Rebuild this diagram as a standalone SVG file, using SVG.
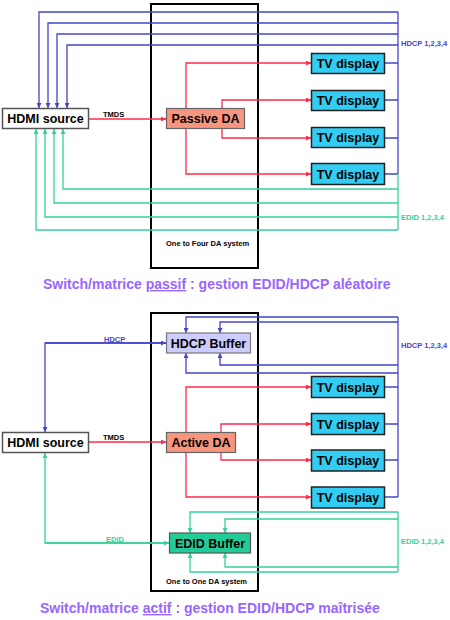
<svg xmlns="http://www.w3.org/2000/svg" width="450" height="620" viewBox="0 0 450 620">
<style>
text{font-family:"Liberation Sans",Arial,sans-serif;font-weight:bold}
.node{font-size:12.5px;fill:#000}
.small{font-size:7.5px}
.bl{fill:none;stroke:#4444cc;stroke-width:1.3}
.rd{fill:none;stroke:#ff2a4a;stroke-width:1.3}
.gr{fill:none;stroke:#33d19b;stroke-width:1.3}
.frame{fill:none;stroke:#000;stroke-width:2}
.title{font-size:14px;fill:#9966ff}
</style>
<defs>
<marker id="ab" viewBox="0 0 6 6" refX="6" refY="3" markerWidth="5" markerHeight="5" markerUnits="userSpaceOnUse" orient="auto"><path d="M0,0L6,3L0,6z" fill="#4444cc"/></marker>
<marker id="ar" viewBox="0 0 6 6" refX="6" refY="3" markerWidth="5" markerHeight="5" markerUnits="userSpaceOnUse" orient="auto"><path d="M0,0L6,3L0,6z" fill="#ff2a4a"/></marker>
<marker id="ag" viewBox="0 0 6 6" refX="6" refY="3" markerWidth="5" markerHeight="5" markerUnits="userSpaceOnUse" orient="auto"><path d="M0,0L6,3L0,6z" fill="#33d19b"/></marker>
</defs>
<rect width="450" height="620" fill="#fff"/>

<!-- frames -->
<rect class="frame" x="151" y="4" width="107" height="264"/>
<rect class="frame" x="151" y="313" width="107" height="278"/>

<g id="connectors">
<!-- top: HDCP -->
<path class="bl" d="M398,12H39V108" marker-end="url(#ab)"/>
<path class="bl" d="M398,23H48V108" marker-end="url(#ab)"/>
<path class="bl" d="M398,34H57V108" marker-end="url(#ab)"/>
<path class="bl" d="M398,45H67V108" marker-end="url(#ab)"/>
<path class="bl" d="M398,12V174"/>
<path class="bl" d="M385,63H398M385,100H398M385,138H398M385,174H398"/>
<!-- top: EDID -->
<path class="gr" d="M398,174V230"/>
<path class="gr" d="M398,189H63V129" marker-end="url(#ag)"/>
<path class="gr" d="M398,203H54V129" marker-end="url(#ag)"/>
<path class="gr" d="M398,217H45V129" marker-end="url(#ag)"/>
<path class="gr" d="M398,230H36V129" marker-end="url(#ag)"/>
<!-- top: TMDS -->
<path class="rd" d="M89,119H166" marker-end="url(#ar)"/>
<path class="rd" d="M186,108V63H311" marker-end="url(#ar)"/>
<path class="rd" d="M222,108V100H311" marker-end="url(#ar)"/>
<path class="rd" d="M222,129V138H311" marker-end="url(#ar)"/>
<path class="rd" d="M186,129V174H311" marker-end="url(#ar)"/>

<!-- bottom: HDCP -->
<path class="bl" d="M166,343H45V432" marker-end="url(#ab)"/>
<path class="bl" d="M45,343H166" marker-end="url(#ab)"/>
<path class="bl" d="M398,317H186V333" marker-end="url(#ab)"/>
<path class="bl" d="M398,322H220V333" marker-end="url(#ab)"/>
<path class="bl" d="M398,365H220V353" marker-end="url(#ab)"/>
<path class="bl" d="M398,373H186V353" marker-end="url(#ab)"/>
<path class="bl" d="M398,317V497"/>
<path class="bl" d="M385,387H398M385,424H398M385,460H398M385,497H398"/>
<!-- bottom: TMDS -->
<path class="rd" d="M89,442H166" marker-end="url(#ar)"/>
<path class="rd" d="M186,432V387H311" marker-end="url(#ar)"/>
<path class="rd" d="M221,432V424H311" marker-end="url(#ar)"/>
<path class="rd" d="M221,452V460H311" marker-end="url(#ar)"/>
<path class="rd" d="M186,452V497H311" marker-end="url(#ar)"/>
<!-- bottom: EDID -->
<path class="gr" d="M169,543H45V453" marker-end="url(#ag)"/>
<path class="gr" d="M45,543H169" marker-end="url(#ag)"/>
<path class="gr" d="M398,512H190V533" marker-end="url(#ag)"/>
<path class="gr" d="M398,519H225V533" marker-end="url(#ag)"/>
<path class="gr" d="M398,567H225V553" marker-end="url(#ag)"/>
<path class="gr" d="M398,572H190V553" marker-end="url(#ag)"/>
<path class="gr" d="M398,512V572"/>
</g>

<g id="labels">
<text class="small" x="103" y="117" fill="#000">TMDS</text>
<text class="small" x="103" y="440" fill="#000">TMDS</text>
<text class="small" x="104" y="342" fill="#4444cc">HDCP</text>
<text class="small" x="106" y="542" fill="#33d19b">EDID</text>
<text class="small" x="401" y="46" fill="#4444cc">HDCP 1,2,3,4</text>
<text class="small" x="401" y="220" fill="#33d19b">EDID 1,2,3,4</text>
<text class="small" x="401" y="348" fill="#4444cc">HDCP 1,2,3,4</text>
<text class="small" x="401" y="544" fill="#33d19b">EDID 1,2,3,4</text>
<text class="small" x="166" y="246" fill="#000">One to Four DA system</text>
<text class="small" x="166" y="584" fill="#000">One to One DA system</text>
</g>

<!-- top nodes -->
<g id="hdmi1"><rect x="2.5" y="108.5" width="86" height="20" fill="#fff" stroke="#555" stroke-width="1.5"/><text class="node" x="45.5" y="123" text-anchor="middle">HDMI source</text></g>
<g id="pda"><rect x="166.5" y="108.5" width="78" height="20" fill="#f7957f" stroke="#666" stroke-width="1.2"/><text class="node" x="205.5" y="123" text-anchor="middle">Passive DA</text></g>
<g id="tv1"><rect x="311.5" y="53.5" width="73" height="20" fill="#33ccf2" stroke="#222" stroke-width="1.5"/><text class="node" x="348" y="68" text-anchor="middle">TV display</text></g>
<g id="tv2"><rect x="311.5" y="90.5" width="73" height="20" fill="#33ccf2" stroke="#222" stroke-width="1.5"/><text class="node" x="348" y="105" text-anchor="middle">TV display</text></g>
<g id="tv3"><rect x="311.5" y="127.5" width="73" height="20" fill="#33ccf2" stroke="#222" stroke-width="1.5"/><text class="node" x="348" y="142" text-anchor="middle">TV display</text></g>
<g id="tv4"><rect x="311.5" y="163.5" width="73" height="21" fill="#33ccf2" stroke="#222" stroke-width="1.5"/><text class="node" x="348" y="178.5" text-anchor="middle">TV display</text></g>

<!-- bottom nodes -->
<g id="hdmi2"><rect x="2.5" y="432.5" width="86" height="20" fill="#fff" stroke="#555" stroke-width="1.5"/><text class="node" x="45.5" y="447" text-anchor="middle">HDMI source</text></g>
<g id="hdcpbuf"><rect x="166.5" y="333" width="84" height="20" fill="#ccccff" stroke="#777" stroke-width="1.2"/><text class="node" x="208.5" y="347.5" text-anchor="middle">HDCP Buffer</text></g>
<g id="ada"><rect x="166.5" y="432.5" width="69" height="20" fill="#f7957f" stroke="#666" stroke-width="1.2"/><text class="node" x="201" y="447" text-anchor="middle">Active DA</text></g>
<g id="edidbuf"><rect x="169.5" y="533" width="81" height="20" fill="#22cc99" stroke="#555" stroke-width="1.2"/><text class="node" x="210" y="547.5" text-anchor="middle">EDID Buffer</text></g>
<g id="tv5"><rect x="311.5" y="376.5" width="73" height="21" fill="#33ccf2" stroke="#222" stroke-width="1.5"/><text class="node" x="348" y="391.5" text-anchor="middle">TV display</text></g>
<g id="tv6"><rect x="311.5" y="413.5" width="73" height="21" fill="#33ccf2" stroke="#222" stroke-width="1.5"/><text class="node" x="348" y="428.5" text-anchor="middle">TV display</text></g>
<g id="tv7"><rect x="311.5" y="450" width="73" height="21" fill="#33ccf2" stroke="#222" stroke-width="1.5"/><text class="node" x="348" y="465" text-anchor="middle">TV display</text></g>
<g id="tv8"><rect x="311.5" y="487" width="73" height="21" fill="#33ccf2" stroke="#222" stroke-width="1.5"/><text class="node" x="348" y="502" text-anchor="middle">TV display</text></g>

<g id="titles">
<text class="title" x="43" y="289">Switch/matrice <tspan text-decoration="underline">passif</tspan> : gestion EDID/HDCP aléatoire</text>
<text class="title" x="40" y="613">Switch/matrice <tspan text-decoration="underline">actif</tspan> : gestion EDID/HDCP maîtrisée</text>
</g>
</svg>
